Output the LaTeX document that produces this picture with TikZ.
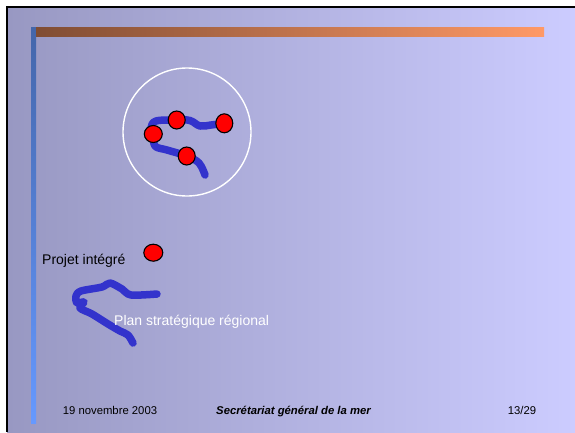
\documentclass[tikz,border=0pt]{standalone}
\usepackage{fontspec}
\setmainfont{Liberation Sans}
\usetikzlibrary{positioning}
\usetikzlibrary{shapes.geometric}
\definecolor{slideleft}{RGB}{152,152,194}
\definecolor{slideright}{RGB}{204,204,255}
\definecolor{barblue}{RGB}{68,102,170}
\definecolor{barlight}{RGB}{102,153,255}
\definecolor{barbrown}{RGB}{128,77,51}
\definecolor{barorange}{RGB}{255,153,102}
\definecolor{trailblue}{RGB}{51,51,204}

\begin{document}
\begin{tikzpicture}[x=1pt, y=-1pt,
		dot/.style = {draw, ellipse, fill=red, line width=1.1pt, inner sep=0pt, minimum width=17pt, minimum height=18pt},
		trail/.style = {draw=trailblue, line width=7.5pt, line cap=round, line join=round},
		caption/.style = {inner sep=0pt, font=\fontsize{14}{16}\selectfont},
		footer/.style = {inner sep=0pt, anchor=base, font=\fontsize{11.3}{13}\selectfont}]
	\useasboundingbox (0,0) rectangle (575,432);
	\fill[white] (0,0) rectangle (575,432);
	% slide background and title bars
	\shade[left color=slideleft, right color=slideright] (7,7) rectangle (575,432);
	\draw[line width=1.5pt] (575,7) -- (7,7) -- (7,432);
	\shade[top color=barblue, bottom color=barlight] (31,27) rectangle (36,423);
	\shade[left color=barbrown, right color=barorange] (36,27) rectangle (544,36);
	\node[draw=white, circle, line width=1.4pt, minimum size=128pt] (zone) at (187,132) {};
	% dot positions
	\coordinate (p1) at (176.7,120);
	\coordinate (p2) at (224.3,123.3);
	\coordinate (p3) at (153.3,134);
	\coordinate (p4) at (186.7,156);
	\coordinate (p5) at (153.3,252.7);
	% strokes
	\draw[trail] plot[smooth, tension=0.6] coordinates {(p2) (211,125) (200,126) (190,120.5) (p1) (156,121) (151,128) (p3) (155,146) (167,150) (p4) (199,163) (205,175)};
	\draw[trail] plot[smooth, tension=0.5] coordinates {(157,294) (131,295) (122,289) (110,283) (102,287) (81,291) (76,296) (77,303) (84,302) (80,308) (92,314) (108,324) (120,331) (128,335) (133,343)};
	\node[dot] (d1) at (p1) {};
	\node[dot, minimum height=19pt] (d2) at (p2) {};
	\node[dot, minimum width=18pt, minimum height=17pt] (d3) at (p3) {};
	\node[dot] (d4) at (p4) {};
	\node[dot, minimum width=19pt, minimum height=17pt] (d5) at (p5) {};
	% labels
	\node[caption, anchor=base west] (proj) at (42,264) {Projet intégré};
	\node[caption, anchor=base west, text=white] (plan) at (114,325.5) {Plan stratégique régional};
	\node[footer] (date) at (110,414) {19 novembre 2003};
	\node[footer, font=\fontsize{11.3}{13}\selectfont\bfseries\itshape] (sgmer) at (293.5,414) {Secrétariat général de la mer};
	\node[footer] (page) at (522,414) {13/29};
\end{tikzpicture}
\end{document}
